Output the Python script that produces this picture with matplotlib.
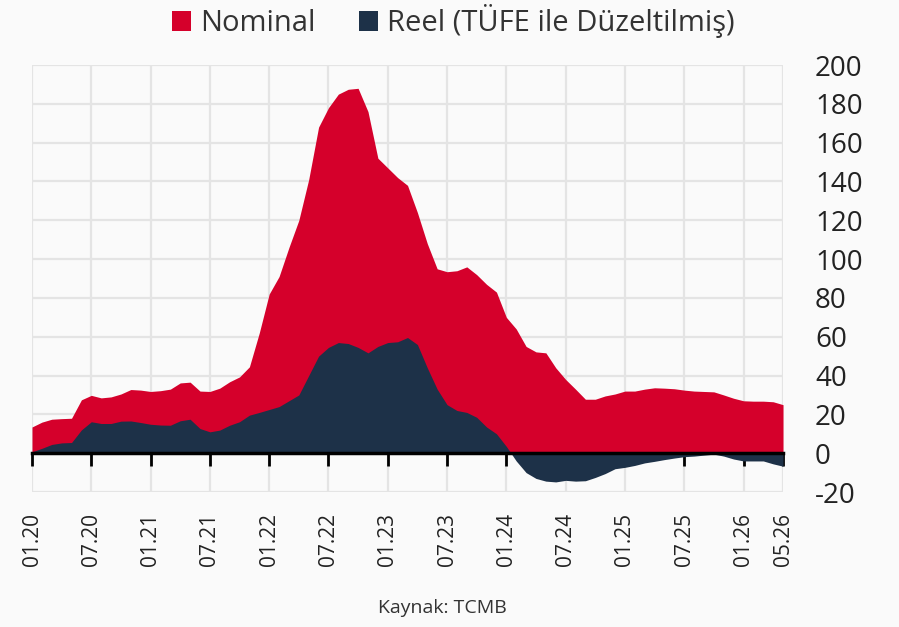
"""Nominal vs reel (TÜFE ile düzeltilmiş) değişim, 01.20 - 05.26."""

import matplotlib

matplotlib.use("Agg")
import matplotlib.pyplot as plt
import numpy as np
from matplotlib.patches import Patch

# monthly values, 01.20 .. 05.26 (77 months)
nominal = [
    13.5, 16, 17.5, 17.8, 18, 27.5, 29.8, 28.5, 29, 30.5, 32.8, 32.5,
    31.8, 32.2, 33, 36.2, 36.6, 32, 31.8, 33.5, 36.8, 39.3, 44.5, 62,
    82, 91, 106, 120, 141, 168, 178, 185, 187.5, 188, 176, 152,
    147, 142, 138, 124, 108, 95, 93.5, 94, 96, 92, 87, 83,
    70, 64, 55, 52.2, 51.7, 44, 38, 33, 27.8, 27.8, 29.5, 30.5,
    32, 32, 33, 33.7, 33.5, 33.2, 32.5, 32, 31.8, 31.6, 30, 28.3,
    27, 26.8, 26.8, 26.5, 25,
]
reel = [
    0.7, 2.5, 4.5, 5.3, 5.5, 12, 16.2, 15.3, 15.3, 16.5, 16.6, 15.8,
    14.9, 14.5, 14.4, 16.7, 17.5, 12.7, 11, 11.9, 14.4, 16.2, 19.6, 21,
    22.5, 24, 27, 30, 40, 50, 54.5, 57, 56.5, 54.5, 51.7, 55,
    57, 57.4, 59.6, 56, 44, 33, 25, 22, 21, 18.5, 13.5, 10,
    3.5, -4, -10, -13, -14.4, -14.8, -14, -14.4, -14.2, -12.5, -10.5, -8,
    -7.3, -6.3, -5, -4.2, -3.3, -2.5, -1.8, -1.5, -1, -0.5, -1.5, -3,
    -4, -4, -4, -5.5, -6.7,
]
tick_pos = [0, 6, 12, 18, 24, 30, 36, 42, 48, 54, 60, 66, 72, 76]
tick_labels = [
    "01.20", "07.20", "01.21", "07.21", "01.22", "07.22", "01.23",
    "07.23", "01.24", "07.24", "01.25", "07.25", "01.26", "05.26",
]
y_ticks = list(range(-20, 201, 20))

RED = "#d5002b"
NAVY = "#1d3148"
BG = "#fafafa"

plt.rcParams["font.family"] = ["Open Sans", "DejaVu Sans"]
plt.rcParams["axes.unicode_minus"] = False

fig = plt.figure(figsize=(8.99, 6.27), dpi=100, facecolor=BG)
ax = fig.add_axes([0.0356, 0.2153, 0.8354, 0.681], facecolor=BG)

x = np.arange(len(nominal))
ax.fill_between(x, 0, nominal, color=RED, linewidth=0, zorder=2)
ax.fill_between(x, 0, reel, color=NAVY, linewidth=0, zorder=3)

ax.set_xlim(0, 76)
ax.set_ylim(-20, 200)

# grid
ax.set_yticks(y_ticks)
ax.set_xticks(tick_pos)
ax.grid(True, color="#e4e4e4", linewidth=1.6, zorder=0)
ax.set_axisbelow(True)

for side in ["top", "left", "right"]:
    ax.spines[side].set_visible(False)
ax.spines["bottom"].set_position(("data", 0))
ax.spines["bottom"].set_color("black")
ax.spines["bottom"].set_linewidth(2.5)
ax.spines["bottom"].set_zorder(5)
ax.tick_params(axis="x", direction="out", length=9, width=2, color="black",
               labelbottom=False)

# y labels on the right
ax.yaxis.tick_right()
ax.tick_params(axis="y", length=0, pad=23, labelsize=20, labelcolor="#222222")

# x labels below the plot area
sec = ax.secondary_xaxis("bottom")
sec.set_xticks(tick_pos)
sec.set_xticklabels(tick_labels, rotation=90, fontsize=15, color="#222222")
sec.tick_params(axis="x", length=0, pad=15)
sec.spines["bottom"].set_visible(False)

handles = [Patch(facecolor=RED, edgecolor="none"), Patch(facecolor=NAVY, edgecolor="none")]
fig.legend(handles, ["Nominal", "Reel (TÜFE ile Düzeltilmiş)"], loc="center",
           bbox_to_anchor=(0.504, 0.966), ncol=2, frameon=False, fontsize=21,
           handlelength=0.65, handleheight=0.65, handletextpad=0.3,
           columnspacing=1.5, labelcolor="#333333")

fig.text(0.492, 0.03, "Kaynak: TCMB", ha="center", va="center",
         fontsize=14, color="#333333")

fig.savefig("out.png", dpi=100, facecolor=BG)
